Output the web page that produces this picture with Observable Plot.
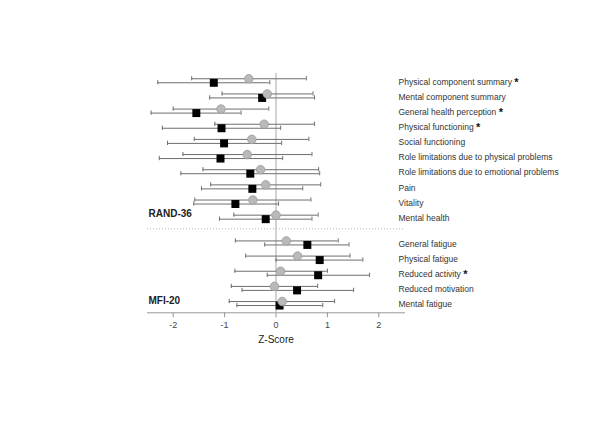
<!DOCTYPE html>
<html><head><meta charset="utf-8">
<script src="https://cdn.jsdelivr.net/npm/d3@7"></script>
<script src="https://cdn.jsdelivr.net/npm/@observablehq/plot@0.6"></script>
<style>body{margin:0;background:#fff}</style>
</head><body><div id="chart"></div>
<script>
const labels = [
  "Physical component summary *", "Mental component summary", "General health perception *",
  "Physical functioning *", "Social functioning", "Role limitations due to physical problems",
  "Role limitations due to emotional problems", "Pain", "Vitality", "Mental health",
  "General fatigue", "Physical fatigue", "Reduced activity *", "Reduced motivation", "Mental fatigue"
];
const groups = ["RAND-36","RAND-36","RAND-36","RAND-36","RAND-36","RAND-36","RAND-36","RAND-36","RAND-36","RAND-36",
  "MFI-20","MFI-20","MFI-20","MFI-20","MFI-20"];
const groupNames = ["RAND-36", "MFI-20"];
// grey circles
const circleMean = [-0.53, -0.17, -1.07, -0.23, -0.47, -0.56, -0.30, -0.20, -0.45, 0.00, 0.20, 0.42, 0.09, -0.03, 0.12];
const circleLo   = [-1.64, -1.05, -2.00, -1.19, -1.59, -1.81, -1.42, -1.27, -1.58, -0.82, -0.79, -0.59, -0.80, -0.87, -0.91];
const circleHi   = [0.59, 0.72, -0.14, 0.75, 0.64, 0.70, 0.83, 0.87, 0.68, 0.82, 1.21, 1.44, 1.00, 0.81, 1.14];
// black squares
const squareMean = [-1.21, -0.27, -1.55, -1.06, -1.01, -1.08, -0.50, -0.46, -0.79, -0.20, 0.61, 0.85, 0.82, 0.41, 0.07];
const squareLo   = [-2.30, -1.29, -2.43, -2.21, -2.11, -2.27, -1.85, -1.45, -1.60, -1.10, -0.22, 0.00, -0.17, -0.66, -0.76];
const squareHi   = [-0.12, 0.75, -0.68, 0.09, 0.11, 0.13, 0.85, 0.52, 0.05, 0.70, 1.42, 1.69, 1.82, 1.51, 0.91];
const xTicks = [-2, -1, 0, 1, 2];
const xLabel = "Z-Score";

// row layout
let pos = 0;
const rows = labels.map((label, i) => {
  if (i > 0 && groups[i] !== groups[i - 1]) pos += 0.7;
  const r = {label, group: groups[i], y: pos,
    cM: circleMean[i], cLo: circleLo[i], cHi: circleHi[i],
    sM: squareMean[i], sLo: squareLo[i], sHi: squareHi[i]};
  pos += 1;
  return r;
});
const yMin = rows[0].y - 0.48;
const yMax = rows[rows.length - 1].y + 0.61;
const lastOf = g => rows.filter(r => r.group === g).slice(-1)[0];
const sepY = lastOf("RAND-36").y + 0.77;
const groupRows = groupNames.map(g => ({name: g, y: lastOf(g).y}));
const cap = 0.14;
const barColor = "#6e6e6e";

const plot = Plot.plot({
  width: 600, height: 424,
  marginLeft: 147, marginRight: 196, marginTop: 73, marginBottom: 111.7,
  style: {fontFamily: "'Liberation Sans', Arial, sans-serif", background: "#fff"},
  x: {domain: [-2.5, 2.5]},
  y: {domain: [yMin, yMax], reverse: true, axis: null},
  marks: [
    Plot.frame({anchor: "bottom", stroke: "#999"}),
    Plot.axisX(xTicks, {tickSize: 5, tickPadding: 4, tickFormat: d => String(d), stroke: "#999", fill: "#444", fontSize: 9, label: null}),
    Plot.ruleX([0], {y1: yMin, y2: yMax, stroke: "#c4c4c4", strokeWidth: 1.5}),
    Plot.ruleY([sepY], {x1: -2.5, x2: 2.5, stroke: "#b0b0b0", strokeDasharray: "1,2"}),
    // square CIs
    Plot.ruleY(rows, {y: "y", x1: "sLo", x2: "sHi", dy: 2, stroke: barColor}),
    Plot.ruleX(rows, {x: "sLo", y1: d => d.y - cap, y2: d => d.y + cap, dy: 2, stroke: barColor}),
    Plot.ruleX(rows, {x: "sHi", y1: d => d.y - cap, y2: d => d.y + cap, dy: 2, stroke: barColor}),
    // circle CIs
    Plot.ruleY(rows, {y: "y", x1: "cLo", x2: "cHi", dy: -2, stroke: barColor}),
    Plot.ruleX(rows, {x: "cLo", y1: d => d.y - cap, y2: d => d.y + cap, dy: -2, stroke: barColor}),
    Plot.ruleX(rows, {x: "cHi", y1: d => d.y - cap, y2: d => d.y + cap, dy: -2, stroke: barColor}),
    Plot.dot(rows, {x: "sM", y: "y", dy: 2, symbol: "square", r: 4.5, fill: "#000"}),
    Plot.dot(rows, {x: "cM", y: "y", dy: -2, symbol: "circle", r: 4.3, fill: "#b9b9b9", stroke: "#9a9a9a", strokeWidth: 0.8}),
    Plot.text(rows, {y: "y", text: "label", frameAnchor: "right", dx: -6, dy: 1, textAnchor: "start", fontSize: 8.5, fill: "#333"}),
    Plot.text(groupRows, {y: "y", text: "name", frameAnchor: "left", dx: 1, dy: -3, textAnchor: "start", fontSize: 10, fontWeight: "bold", fill: "#222"}),
    Plot.text([xLabel], {frameAnchor: "bottom", dy: 30, fontSize: 10, fill: "#222"})
  ]
});
document.getElementById("chart").appendChild(plot);
// bold asterisks
d3.select(plot).selectAll("text").each(function() {
  const t = this.textContent;
  if (this.childElementCount === 0 && t.endsWith(" *")) {
    const el = d3.select(this);
    el.text(null);
    el.append("tspan").text(t.slice(0, -1));
    el.append("tspan").attr("font-weight", "bold").attr("font-size", 11).attr("fill", "#111").attr("dy", "0.1em").text("*");
  }
});
</script>
</body></html>
